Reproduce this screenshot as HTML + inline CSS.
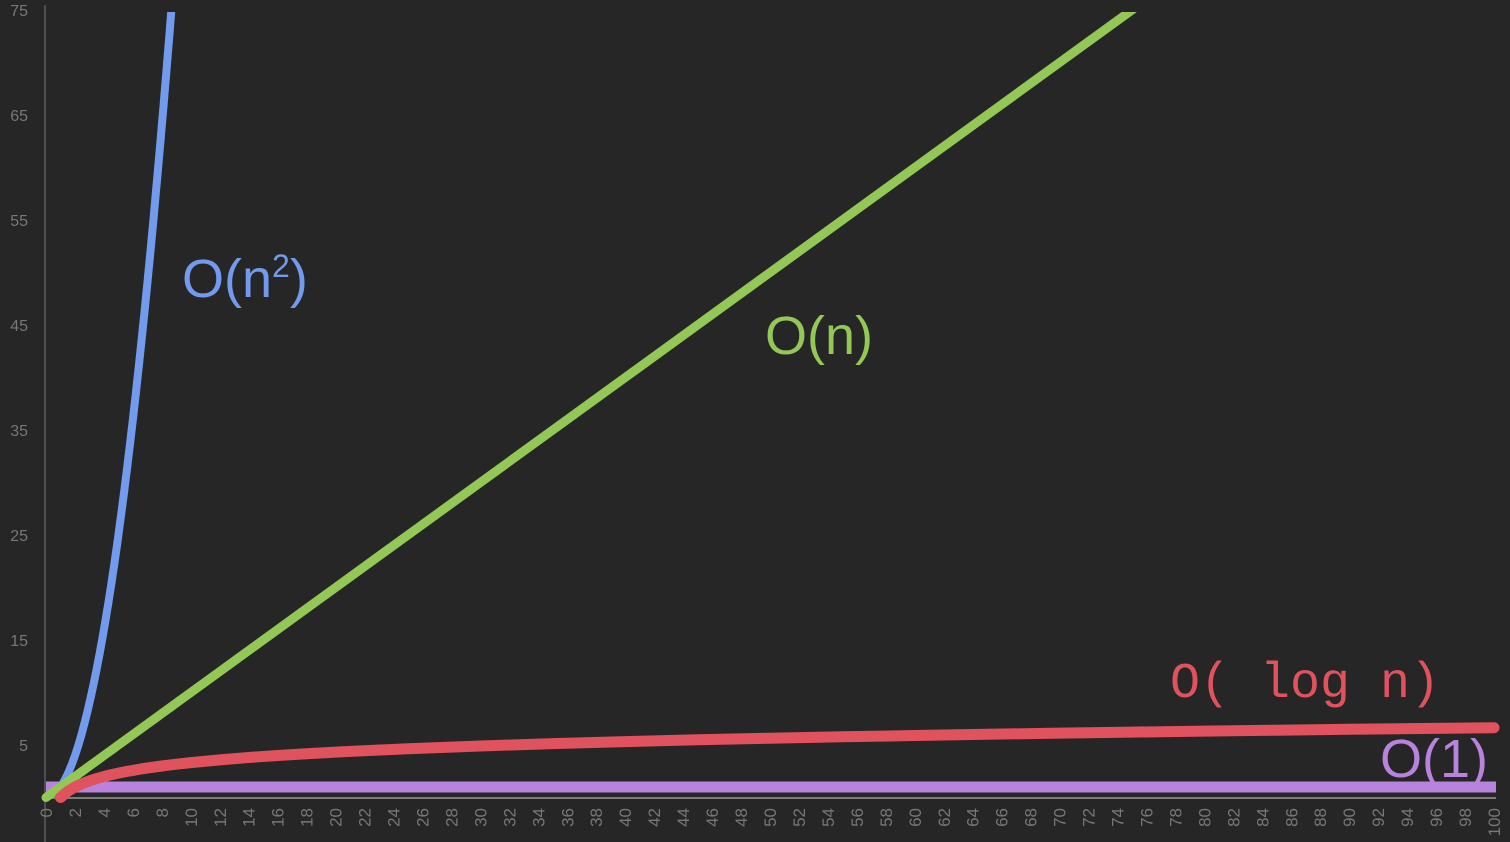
<!DOCTYPE html>
<html><head><meta charset="utf-8"><style>
html,body{margin:0;padding:0;background:#262626;}
svg{display:block}
</style></head><body>
<svg id="chart" width="1510" height="842" viewBox="0 0 1510 842" font-family="Liberation Sans, sans-serif">
<defs><clipPath id="plotclip"><rect x="0" y="12" width="1510" height="830"/></clipPath></defs>
<rect width="1510" height="842" fill="#262626"/>
<g id="grid"></g>
<g id="series" clip-path="url(#plotclip)"></g>
<g id="labels"></g>
</svg>
<script>
const yTicks=[5,15,25,35,45,55,65,75];
const xTicks=[0,2,4,6,8,10,12,14,16,18,20,22,24,26,28,30,32,34,36,38,40,42,44,46,48,50,52,54,56,58,60,62,64,66,68,70,72,74,76,78,80,82,84,86,88,90,92,94,96,98,100];
const nValues=[0,0.5,1,1.5,2,2.5,3,3.5,4,4.5,5,5.5,6,6.5,7,7.5,8,8.5,9,10,12,14,16,18,20,25,30,35,40,45,50,55,60,65,70,75,80,85,90,95,100];
const NS="http://www.w3.org/2000/svg";
const X=v=>46+v*14.48;
const Y=v=>797.5-v*10.5;
const grid=document.getElementById('grid'),series=document.getElementById('series'),labels=document.getElementById('labels');
function mk(tag,attrs,parent){const e=document.createElementNS(NS,tag);for(const k in attrs)e.setAttribute(k,attrs[k]);parent.appendChild(e);return e;}
let ax=mk('line',{x1:45,y1:5,x2:45,y2:842,stroke:'#777','stroke-width':1},grid);


let bx=mk('line',{x1:45,y1:798,x2:1496,y2:798,stroke:'#999','stroke-width':1.5},grid);


yTicks.forEach(t=>{const e=mk('text',{x:28,y:Y(t)+6,'text-anchor':'end','font-size':16,fill:'#777'},grid);e.textContent=t;

});
xTicks.forEach(t=>{const e=mk('text',{transform:`translate(${X(t)+6},808) rotate(-90)`,'text-anchor':'end','font-size':17,fill:'#777'},grid);e.textContent=t;

});
function path(fn,minN,color,w,name){
  const pts=nValues.filter(n=>n>=minN).map(n=>[X(n),Y(fn(n))]);
  const p=mk('path',{d:'M'+pts.map(p=>p[0].toFixed(1)+','+p[1].toFixed(1)).join('L'),fill:'none',stroke:color,'stroke-width':w,'stroke-linecap':'round','stroke-linejoin':'round'},series);
  
  
}
const fineN=[];for(let i=10;i<=95;i++)fineN.push(i/10);
const blue=mk('path',{d:'M'+fineN.map(n=>X(n).toFixed(1)+','+Y(n*n).toFixed(1)).join('L'),fill:'none',stroke:'#739bed','stroke-width':8},series);


const purple=mk('line',{x1:46,y1:Y(1),x2:1496,y2:Y(1),stroke:'#b883dc','stroke-width':11},series);


path(n=>n,0,'#94c856',9,'series-o-n');
path(n=>Math.log2(n),1,'#e0525e',11,'series-o-log-n');
function lab(x,y,txt,color,size,fam,name){const e=mk('text',{x:x,y:y,'font-size':size,fill:color},labels);e.style.fontFamily=fam;e.innerHTML=txt;

}
lab(182,297,'O(n<tspan dy="-20" font-size="32">2</tspan><tspan dy="20">)</tspan>','#739bed',54,'"Liberation Sans", sans-serif','label-o-n-squared');
lab(765,354,'O(n)','#94c856',54,'"Liberation Sans", sans-serif','label-o-n');
lab(1170,697,'O( log n)','#e0525e',50,'"Liberation Mono", monospace','label-o-log-n');
lab(1380,777,'O(1)','#b883dc',54,'"Liberation Sans", sans-serif','label-o-1');
</script>
</body></html>
